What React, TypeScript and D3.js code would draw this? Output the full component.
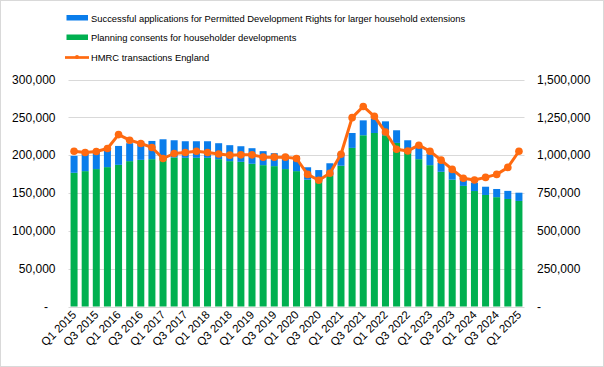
import React from "react";
import * as d3 from "d3";

const quarters = [
  "Q1 2015", "Q2 2015", "Q3 2015", "Q4 2015",
  "Q1 2016", "Q2 2016", "Q3 2016", "Q4 2016",
  "Q1 2017", "Q2 2017", "Q3 2017", "Q4 2017",
  "Q1 2018", "Q2 2018", "Q3 2018", "Q4 2018",
  "Q1 2019", "Q2 2019", "Q3 2019", "Q4 2019",
  "Q1 2020", "Q2 2020", "Q3 2020", "Q4 2020",
  "Q1 2021", "Q2 2021", "Q3 2021", "Q4 2021",
  "Q1 2022", "Q2 2022", "Q3 2022", "Q4 2022",
  "Q1 2023", "Q2 2023", "Q3 2023", "Q4 2023",
  "Q1 2024", "Q2 2024", "Q3 2024", "Q4 2024",
  "Q1 2025",
];

// Planning consents for householder developments (left axis)
const planningConsents = [
  176700, 178900, 181600, 184200,
  187200, 192100, 193800, 194700,
  196000, 197000, 196500, 196500,
  196500, 194700, 192100, 191200,
  188600, 186800, 185500, 181600,
  178900, 167600, 164700, 172600,
  186000, 209600, 226300, 229300,
  226300, 216200, 204300, 194700,
  186800, 178000, 167600, 159400,
  152600, 147400, 144500, 142100,
  139500,
];

// Successful applications for PDR larger household extensions (left axis, stacked)
const pdrApplications = [
  22400, 22800, 22300, 23700,
  25000, 23700, 24600, 24100,
  25000, 22700, 21900, 21900,
  21900, 21100, 21100, 20600,
  20600, 18500, 17100, 18800,
  19800, 16400, 15600, 16700,
  16500, 19700, 19700, 19400,
  18400, 16700, 15400, 16200,
  14500, 11900, 12000, 11000,
  11000, 10900, 10800, 10700,
  10900,
];

// HMRC transactions England (right axis)
const hmrcTransactions = [
  1026000, 1018000, 1024000, 1044000,
  1136000, 1099000, 1077000, 1051000,
  978000, 1011000, 1018000, 1026000,
  1018000, 1008000, 1000000, 1002000,
  1002000, 987000, 987000, 987000,
  978000, 873000, 834000, 881000,
  1006000, 1248000, 1322000, 1257000,
  1153000, 1039000, 1028000, 1066000,
  1026000, 967000, 906000, 847000,
  836000, 853000, 873000, 919000,
  1026000,
];

const leftTicks = [0, 50000, 100000, 150000, 200000, 250000, 300000];
const rightTicks = [0, 250000, 500000, 750000, 1000000, 1250000, 1500000];

const legendLabels = [
  "Successful applications for Permitted Development Rights for larger household extensions",
  "Planning consents for householder developments",
  "HMRC transactions England",
];

const BLUE = "#0A7DEB";
const GREEN = "#00B050";
const ORANGE = "#FF6A10";
const GRID = "#D9D9D9";
const FONT = "'Liberation Sans', Arial, sans-serif";

export default function App() {
  const W = 604;
  const H = 367;
  const plotLeft = 68.5;
  const plotRight = 524.5;
  const plotTop = 79.5;
  const plotBottom = 306.5;

  const x = d3
    .scaleBand<string>()
    .domain(quarters)
    .range([plotLeft, plotRight])
    .paddingInner(0.37)
    .paddingOuter(0.185);
  const yL = d3.scaleLinear().domain([0, 300000]).range([plotBottom, plotTop]);
  const yR = d3.scaleLinear().domain([0, 1500000]).range([plotBottom, plotTop]);

  const fmt = d3.format(",");

  const line = d3
    .line<number>()
    .x((_, i) => (x(quarters[i]) as number) + x.bandwidth() / 2)
    .y((d) => yR(d));

  return (
    <div style={{ position: "absolute", left: 0, top: 0 }}>
      <svg width={W} height={H} style={{ display: "block", fontFamily: FONT }}>
        <rect x={0.5} y={0.5} width={W - 1} height={H - 1} fill="#fff" stroke={GRID} />

        {/* gridlines */}
        {leftTicks.map((t) => (
          <line
            key={"g" + t}
            x1={plotLeft}
            x2={plotRight}
            y1={Math.round(yL(t)) + 0.5}
            y2={Math.round(yL(t)) + 0.5}
            stroke={GRID}
            strokeWidth={1}
          />
        ))}

        {/* left axis labels */}
        {leftTicks.map((t) => (
          <text
            key={"l" + t}
            x={t === 0 ? 48 : 55.5}
            y={yL(t)}
            dy="0.35em"
            textAnchor="end"
            fontSize={12}
            fill="#000"
          >
            {t === 0 ? "-" : fmt(t)}
          </text>
        ))}

        {/* right axis labels */}
        {rightTicks.map((t) => (
          <text
            key={"r" + t}
            x={537}
            y={yR(t)}
            dy="0.35em"
            textAnchor="start"
            fontSize={12}
            fill="#000"
          >
            {t === 0 ? "-" : fmt(t)}
          </text>
        ))}

        {/* bars */}
        {quarters.map((q, i) => {
          const g = planningConsents[i];
          const b = pdrApplications[i];
          return (
            <g key={"b" + q}>
              <rect
                x={x(q)}
                width={x.bandwidth()}
                y={yL(g)}
                height={yL(0) - yL(g)}
                fill={GREEN}
              />
              <rect
                x={x(q)}
                width={x.bandwidth()}
                y={yL(g + b)}
                height={yL(g) - yL(g + b)}
                fill={BLUE}
              />
            </g>
          );
        })}

        {/* line */}
        <path
          d={line(hmrcTransactions) || ""}
          fill="none"
          stroke={ORANGE}
          strokeWidth={3}
          strokeLinejoin="round"
        />
        {hmrcTransactions.map((v, i) => (
          <circle
            key={"c" + i}
            cx={(x(quarters[i]) as number) + x.bandwidth() / 2}
            cy={yR(v)}
            r={3.8}
            fill={ORANGE}
          />
        ))}

        {/* x axis labels */}
        {quarters.map((q, i) =>
          i % 2 === 0 ? (
            <text
              key={"x" + q}
              transform={`translate(${(x(q) as number) + x.bandwidth() / 2 + 3},${plotBottom + 9}) rotate(-45)`}
              textAnchor="end"
              fontSize={11.5}
              fill="#000"
            >
              {q}
            </text>
          ) : null
        )}

        {/* legend */}
        <rect x={66.5} y={15} width={21.5} height={5.5} fill={BLUE} />
        <text x={91} y={21.5} fontSize={9.4} fill="#000">
          {legendLabels[0]}
        </text>
        <rect x={66.5} y={34.5} width={21.5} height={5.5} fill={GREEN} />
        <text x={91} y={41} fontSize={9.4} fill="#000">
          {legendLabels[1]}
        </text>
        <line x1={65} x2={89} y1={57.5} y2={57.5} stroke={ORANGE} strokeWidth={2.7} />
        <circle cx={77} cy={57} r={2} fill={ORANGE} />
        <text x={91} y={61} fontSize={9.4} fill="#000">
          {legendLabels[2]}
        </text>
      </svg>
    </div>
  );
}
